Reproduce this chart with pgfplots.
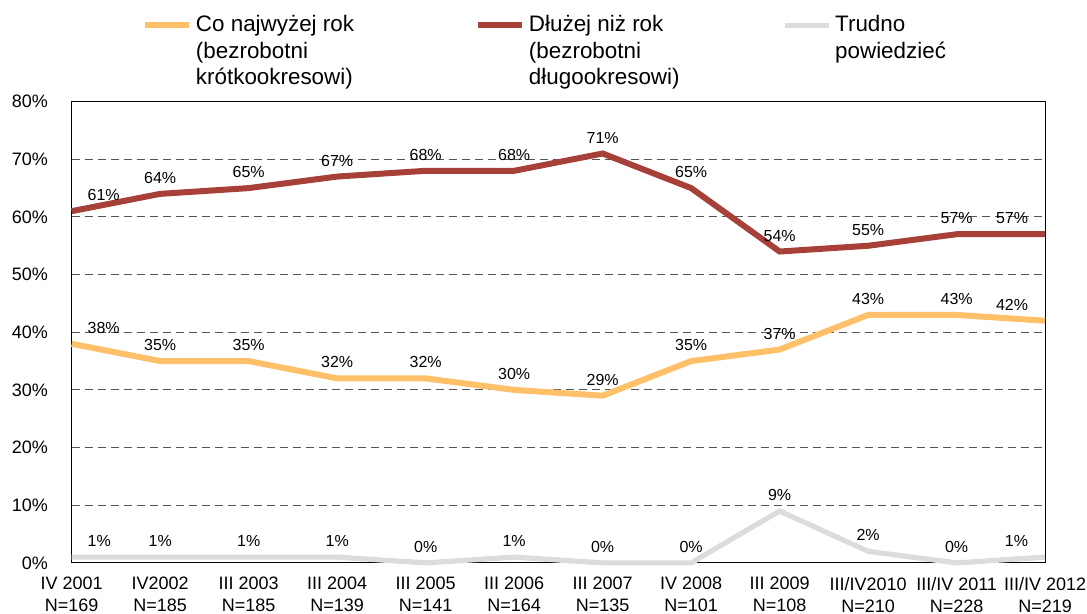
\documentclass[border=0pt]{standalone}
\usepackage{pgfplots}
\pgfplotsset{compat=1.18}
\usepackage{fontspec}
\setmainfont{Liberation Sans}
\definecolor{cOr}{HTML}{FFC06A}
\definecolor{cRd}{HTML}{A8403A}
\definecolor{cGy}{HTML}{DCDCDC}
\definecolor{cGrid}{HTML}{555555}
\begin{document}
\begin{tikzpicture}
\path[use as bounding box] (0,0) rectangle (543.5pt,307pt);
\begin{axis}[
  at={(35.85pt,25.55pt)}, anchor=south west,
  scale only axis, width=486.7pt, height=230.65pt,
  xmin=0, xmax=11, ymin=0, ymax=80,
  xtick={0,1,2,3,4,5,6,7,8,9,10,11},
  xticklabels={{IV 2001\\N=169},{IV2002\\N=185},{III 2003\\N=185},{III 2004\\N=139},{III 2005\\N=141},{III 2006\\N=164},{III 2007\\N=135},{IV 2008\\N=101},{III 2009\\N=108},{III/IV2010\\N=210},{III/IV 2011\\N=228},{III/IV 2012\\N=219}},
  ytick={0,10,20,30,40,50,60,70,80},
  yticklabel={\pgfmathprintnumber{\tick}\%},
  /pgf/number format/assume math mode=true,
  major tick length=0pt,
  ymajorgrids,
  grid style={cGrid, dash pattern=on 4pt off 2.5pt, line width=0.5pt},
  axis line style={black, line width=0.6pt},
  tick label style={font=\fontsize{9}{11}\selectfont},
  xticklabel style={align=center, anchor=north, inner sep=0pt, yshift=-7pt},
  yticklabel style={anchor=east, inner sep=0pt, xshift=-11.7pt},
  clip=false,
  legend columns=3,
  legend style={at={(0.0722,1.1964)}, anchor=north west, draw=none, fill=none,
    inner sep=0pt, outer sep=0pt, column sep=0pt,
    cells={anchor=base west, inner xsep=5pt, inner ysep=0pt},
    font=\fontsize{11.2}{13.4}\selectfont},
  legend image code/.code={\draw[#1] (0pt,3pt) -- (22pt,3pt);},
  point meta=y,
  visualization depends on={x \as \myx},
  nodes near coords={\pgfmathtruncatemacro\lpos{\myx<0.5 ? 1 : (\myx>10.5 ? 2 : 0)}\ifcase\lpos\relax\makebox[0pt][c]{\pgfmathprintnumber{\pgfplotspointmeta}\%}\or\makebox[0pt][l]{\hspace*{8pt}\pgfmathprintnumber{\pgfplotspointmeta}\%}\or\makebox[0pt][r]{\pgfmathprintnumber{\pgfplotspointmeta}\%\hspace*{8.5pt}}\fi},
  every node near coord/.append style={anchor=base, inner sep=0pt, yshift=5.25pt,
    font=\fontsize{8}{9.5}\selectfont, text=black},
]
\addplot[cOr, line width=3pt, mark=none] coordinates {(0,38)(1,35)(2,35)(3,32)(4,32)(5,30)(6,29)(7,35)(8,37)(9,43)(10,43)(11,42)};
\addlegendentry{\parbox[t]{137.5pt}{\raggedright Co najwyżej rok\\(bezrobotni\\krótkookresowi)}}
\addplot[cRd, line width=3pt, mark=none] coordinates {(0,61)(1,64)(2,65)(3,67)(4,68)(5,68)(6,71)(7,65)(8,54)(9,55)(10,57)(11,57)};
\addlegendentry{\parbox[t]{124.5pt}{\raggedright Dłużej niż rok\\(bezrobotni\\długookresowi)}}
\addplot[cGy, line width=2.6pt, mark=none] coordinates {(0,1)(1,1)(2,1)(3,1)(4,0)(5,1)(6,0)(7,0)(8,9)(9,2)(10,0)(11,1)};
\addlegendentry{\parbox[t]{60pt}{\raggedright Trudno\\powiedzieć}}
\end{axis}
\end{tikzpicture}
\end{document}
